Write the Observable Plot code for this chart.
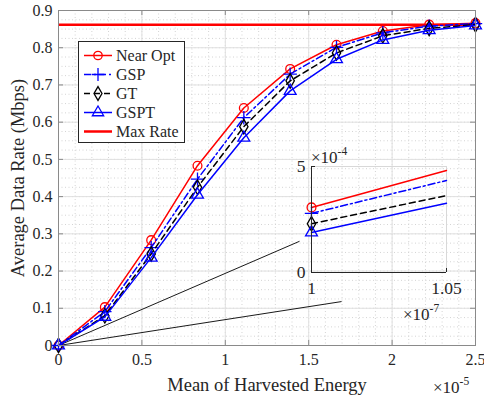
<!DOCTYPE html>
<html>
<head>
<meta charset="utf-8">
<script src="https://cdn.jsdelivr.net/npm/d3@7"></script>
<script src="https://cdn.jsdelivr.net/npm/@observablehq/plot@0.6"></script>
<style>
  html, body { margin: 0; padding: 0; background: #fff; }
  #wrap { position: relative; width: 484px; height: 398px; font-family: "Liberation Serif", "DejaVu Serif", serif; color: #262626; overflow: hidden; }
  #wrap > * { position: absolute; }
  #wrap svg text { font-family: "Liberation Serif", "DejaVu Serif", serif; }
  .exp { font-size: 17px; white-space: nowrap; line-height: 1; }
  .exp sup { font-size: 11.5px; position: relative; top: -1px; }
  #legend { left: 78px; top: 41px; width: 107px; height: 102px; border: 1px solid #262626; background: #fff; box-sizing: border-box; font-size: 16px; }
  #legend .row { position: absolute; left: 4px; height: 19px; display: flex; align-items: center; }
  #legend .row span { margin-left: 3px; }
</style>
</head>
<body>
<div id="wrap"></div>
<script>
// ---------- data ----------
const energy = [0, 0.2778, 0.5556, 0.8333, 1.1111, 1.3889, 1.6667, 1.9444, 2.2222, 2.5]; // ×10^-5
const nearOpt = [0, 0.103, 0.283, 0.483, 0.638, 0.743, 0.808, 0.845, 0.862, 0.866];
const gsp     = [0, 0.091, 0.263, 0.447, 0.612, 0.729, 0.801, 0.840, 0.858, 0.865];
const gt      = [0, 0.080, 0.246, 0.425, 0.588, 0.711, 0.786, 0.832, 0.852, 0.862];
const gspt    = [0, 0.077, 0.236, 0.405, 0.558, 0.684, 0.769, 0.821, 0.847, 0.860];
const maxRate = 0.862;

const xTicks = [0, 0.5, 1, 1.5, 2, 2.5];
const xTickLabels = ["0", "0.5", "1", "1.5", "2", "2.5"];
const yTicks = [0, 0.1, 0.2, 0.3, 0.4, 0.5, 0.6, 0.7, 0.8, 0.9];
const yTickLabels = ["0", "0.1", "0.2", "0.3", "0.4", "0.5", "0.6", "0.7", "0.8", "0.9"];
const xMinor = d3.range(0, 2.5001, 0.1);
const yMinor = d3.range(0, 0.9001, 0.025);

// zoom connector lines (from origin to inset)
const connectorX = [1.445, 1.697];
const connectorY = [0.280, 0.118];

// inset data (x ×10^-7, y ×10^-4)
const insetX = [1, 1.05];
const insetNearOpt = [3.07, 4.81];
const insetGsp     = [2.79, 4.34];
const insetGt      = [2.30, 3.63];
const insetGspt    = [1.89, 3.27];
const insetXTicks = [1, 1.05];
const insetXTickLabels = ["1", "1.05"];
const insetYTicks = [0, 5];

const series = [
  {name: "Near Opt", values: nearOpt, inset: insetNearOpt, color: "#ff0000", dash: null, symbol: "circle"},
  {name: "GSP", values: gsp, inset: insetGsp, color: "#0000ff", dash: "7,3,2,3", symbol: "plus"},
  {name: "GT", values: gt, inset: insetGt, color: "#000000", dash: "6,4", symbol: "diamond"},
  {name: "GSPT", values: gspt, inset: insetGspt, color: "#0000ff", dash: null, symbol: "triangle"}
];

const FONT = "'Liberation Serif', 'DejaVu Serif', serif";

// ---------- main plot ----------
const W = 484, H = 398, ML = 58, MR = 9, MT = 10, MB = 53;
const innerW = W - ML - MR, innerH = H - MT - MB;
const tickLen = 5;
const yTickD = 0.9 * tickLen / innerH;
const xTickD = 2.5 * tickLen / innerW;
const axisColor = "#8a8a8a";

const marks = [
  Plot.ruleX(xMinor, {x: d => d, stroke: "#d4d4d4", strokeDasharray: "1,2.5"}),
  Plot.ruleY(yMinor, {y: d => d, stroke: "#d4d4d4", strokeDasharray: "1,2.5"}),
  Plot.ruleX(xTicks, {x: d => d, stroke: "#e0e0e0"}),
  Plot.ruleY(yTicks, {y: d => d, stroke: "#e0e0e0"}),
  Plot.link(connectorX, {x1: 0, y1: 0, x2: d => d, y2: (d, i) => connectorY[i], stroke: "#000", strokeWidth: 0.9}),
  Plot.ruleY([maxRate], {y: d => d, stroke: "#ff0000", strokeWidth: 2.5})
];
for (const s of series) {
  const data = energy.map((x, i) => ({x, y: s.values[i]}));
  marks.push(Plot.line(data, {x: "x", y: "y", stroke: s.color, strokeWidth: 1.5, strokeDasharray: s.dash}));
  marks.push(Plot.dot(data, {x: "x", y: "y", stroke: s.color, strokeWidth: 1.3, symbol: s.symbol, r: 4.4, fill: "none"}));
}
marks.push(
  Plot.frame({stroke: axisColor}),
  Plot.ruleX(xTicks, {x: d => d, y1: 0, y2: yTickD, stroke: axisColor}),
  Plot.ruleX(xTicks, {x: d => d, y1: 0.9 - yTickD, y2: 0.9, stroke: axisColor}),
  Plot.ruleY(yTicks, {y: d => d, x1: 0, x2: xTickD, stroke: axisColor}),
  Plot.ruleY(yTicks, {y: d => d, x1: 2.5 - xTickD, x2: 2.5, stroke: axisColor}),
  Plot.axisX(xTicks, {tickSize: 0, tickPadding: 8, tickFormat: (d, i) => xTickLabels[i], fontSize: 16, fill: "#262626", label: null, fontFamily: FONT}),
  Plot.axisY(yTicks, {tickSize: 0, tickPadding: 6, tickFormat: (d, i) => yTickLabels[i], fontSize: 16, fill: "#262626", label: null, fontFamily: FONT}),
  Plot.text(["Mean of Harvested Energy"], {text: d => d, frameAnchor: "bottom", lineAnchor: "middle", textAnchor: "middle", dy: 40, fontSize: 18.5, fill: "#262626", fontFamily: FONT}),
  Plot.text(["Average Data Rate (Mbps)"], {text: d => d, frameAnchor: "left", lineAnchor: "middle", textAnchor: "middle", dx: -40, rotate: -90, fontSize: 18.5, fill: "#262626", fontFamily: FONT})
);

const main = Plot.plot({
  width: W, height: H,
  marginLeft: ML, marginRight: MR, marginTop: MT, marginBottom: MB,
  x: {domain: [0, 2.5], axis: null},
  y: {domain: [0, 0.9], axis: null},
  style: {fontFamily: FONT, background: "transparent", overflow: "visible"},
  marks
});
main.style.left = "0px"; main.style.top = "0px";
const wrap = document.getElementById("wrap");
wrap.appendChild(main);

// ---------- inset ----------
const iML = 35, iMR = 40, iMT = 30, iMB = 55, iW = 135 + iML + iMR, iH = 106 + iMT + iMB;
const iTickY = 5 * 4 / 106, iTickX = 0.05 * 4 / 135;
const imarks = [
  Plot.ruleX([1.05], {x: d => d, stroke: "#d8d8d8"}),
  Plot.ruleY([5], {y: d => d, stroke: "#d8d8d8"})
];
for (const s of series) {
  const data = insetX.map((x, i) => ({x, y: s.inset[i]}));
  imarks.push(Plot.line(data, {x: "x", y: "y", stroke: s.color, strokeWidth: 1.5, strokeDasharray: s.dash}));
  imarks.push(Plot.dot(data.slice(0, 1), {x: "x", y: "y", stroke: s.color, strokeWidth: 1.3, symbol: s.symbol, r: 4.4, fill: "none"}));
}
imarks.push(
  Plot.ruleX([1], {x: d => d, stroke: "#262626"}),
  Plot.ruleY([0], {y: d => d, stroke: "#262626"}),
  Plot.ruleX(insetXTicks, {x: d => d, y1: 0, y2: iTickY, stroke: "#262626"}),
  Plot.ruleY(insetYTicks, {y: d => d, x1: 1, x2: 1 + iTickX, stroke: "#262626"}),
  Plot.axisX(insetXTicks, {tickSize: 0, tickPadding: 9, tickFormat: (d, i) => insetXTickLabels[i], fontSize: 17.5, fill: "#262626", label: null, fontFamily: FONT}),
  Plot.axisY(insetYTicks, {tickSize: 0, tickPadding: 6, tickFormat: d => String(d), fontSize: 17.5, fill: "#262626", label: null, fontFamily: FONT})
);
const inset = Plot.plot({
  width: iW, height: iH,
  marginLeft: iML, marginRight: iMR, marginTop: iMT, marginBottom: iMB,
  x: {domain: [1, 1.05], axis: null},
  y: {domain: [0, 5], axis: null},
  style: {fontFamily: FONT, background: "transparent", overflow: "visible"},
  marks: imarks
});
inset.style.left = (311 - iML) + "px"; inset.style.top = (166 - iMT) + "px";
wrap.appendChild(inset);

// ---------- exponent labels ----------
function exp(text, power, left, top) {
  const d = document.createElement("div");
  d.className = "exp";
  d.innerHTML = text + "<sup>" + power + "</sup>";
  d.style.left = left + "px"; d.style.top = top + "px";
  wrap.appendChild(d);
}
exp("×10", "-5", 433, 377);
exp("×10", "-4", 311, 147);
exp("×10", "-7", 403, 304);

// ---------- legend ----------
const legend = document.createElement("div");
legend.id = "legend";
const legItems = series.map(s => ({name: s.name, color: s.color, dash: s.dash, symbol: s.symbol, width: 1.5}))
  .concat([{name: "Max Rate", color: "#ff0000", dash: null, symbol: null, width: 2.5}]);
const symPath = {circle: d3.symbolCircle, plus: d3.symbolPlus, diamond: d3.symbolDiamond, triangle: d3.symbolTriangle};
legItems.forEach((it, i) => {
  const row = document.createElement("div");
  row.className = "row";
  row.style.top = (4 + i * 19) + "px";
  const svg = d3.create("svg").attr("width", 30).attr("height", 19);
  svg.append("line").attr("x1", 1).attr("x2", 29).attr("y1", 9.5).attr("y2", 9.5)
    .attr("stroke", it.color).attr("stroke-width", it.width).attr("stroke-dasharray", it.dash);
  if (it.symbol) {
    svg.append("path").attr("transform", "translate(15,9.5)")
      .attr("d", d3.symbol(symPath[it.symbol], Math.PI * 4.2 * 4.2)())
      .attr("fill", it.symbol === "plus" ? it.color : "none")
      .attr("stroke", it.color).attr("stroke-width", 1.3);
  }
  row.appendChild(svg.node());
  const sp = document.createElement("span");
  sp.textContent = it.name;
  row.appendChild(sp);
  legend.appendChild(row);
});
wrap.appendChild(legend);
</script>
</body>
</html>
